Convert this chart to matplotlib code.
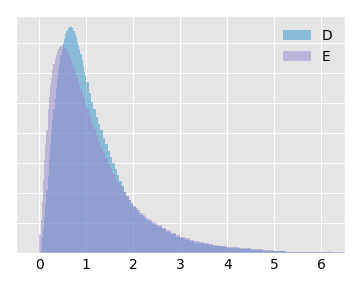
import numpy as np
import matplotlib
matplotlib.use("Agg")
import matplotlib.pyplot as plt

plt.style.use("ggplot")

labels = ["D", "E"]
colors = ["#2F90C8", "#9786CC"]

# bin edges (x values)
edges = np.concatenate([
    np.arange(0.0, 1.0, 0.025),
    np.arange(1.0, 2.5, 0.05),
    np.arange(2.5, 4.0, 0.1),
    np.arange(4.0, 6.51, 0.25),
])

# density heights
d_vals = [
    0.0, 0.01, 0.05, 0.08, 0.12, 0.165, 0.21, 0.26, 0.31, 0.36,
    0.405, 0.445, 0.48, 0.515, 0.55, 0.58, 0.61, 0.635, 0.66, 0.68,
    0.70, 0.715, 0.73, 0.742, 0.75, 0.755, 0.757, 0.755, 0.75, 0.74,
    0.73, 0.72, 0.705, 0.69, 0.68, 0.665, 0.645, 0.625, 0.605, 0.59,
    0.57, 0.535, 0.505, 0.48, 0.455, 0.43, 0.41, 0.385, 0.363, 0.34,
    0.32, 0.30, 0.28, 0.26, 0.24, 0.223, 0.205, 0.19, 0.176, 0.164,
    0.152, 0.143, 0.135, 0.127, 0.12, 0.114, 0.108, 0.103, 0.098, 0.093,
    0.087, 0.08, 0.07, 0.062, 0.055, 0.05, 0.044, 0.039, 0.035, 0.032,
    0.029, 0.027, 0.024, 0.022, 0.02,
    0.017, 0.013, 0.01, 0.008, 0.006, 0.004, 0.003, 0.002, 0.002, 0.001,
]
e_vals = [
    0.06, 0.11, 0.17, 0.245, 0.31, 0.36, 0.41, 0.48, 0.52, 0.56,
    0.585, 0.61, 0.63, 0.648, 0.662, 0.675, 0.682, 0.687, 0.69, 0.69,
    0.69, 0.687, 0.683, 0.677, 0.67, 0.66, 0.65, 0.64, 0.627, 0.617,
    0.605, 0.595, 0.582, 0.57, 0.558, 0.547, 0.535, 0.523, 0.512, 0.50,
    0.483, 0.46, 0.435, 0.413, 0.393, 0.373, 0.355, 0.335, 0.316, 0.298,
    0.282, 0.265, 0.25, 0.238, 0.227, 0.215, 0.203, 0.19, 0.178, 0.168,
    0.158, 0.15, 0.142, 0.135, 0.128, 0.121, 0.115, 0.11, 0.104, 0.099,
    0.092, 0.085, 0.076, 0.068, 0.06, 0.055, 0.049, 0.044, 0.04, 0.036,
    0.033, 0.03, 0.027, 0.025, 0.023,
    0.02, 0.016, 0.012, 0.01, 0.008, 0.005, 0.004, 0.003, 0.002, 0.002,
]

xticks = [0, 1, 2, 3, 4, 5, 6]

fig = plt.figure(figsize=(3.6, 2.88), dpi=100)
ax = fig.add_axes([0.044, 0.1215, 0.914, 0.8225])

for vals, lab, col in zip([d_vals, e_vals], labels, colors):
    ax.hist(edges[:-1], bins=edges, weights=vals, histtype="stepfilled",
            color=col, alpha=0.5, label=lab, edgecolor="none", linewidth=0)

ax.set_xlim(-0.5, 6.5)
ax.set_ylim(0, 0.79)
ax.set_xticks(xticks)
ax.set_xticklabels([str(t) for t in xticks])
ax.set_yticks(np.arange(0, 0.75, 0.1))
ax.set_yticklabels([])
ax.tick_params(length=0, labelsize=10, colors="black")
ax.legend(loc="upper right", frameon=False, fontsize=10)

fig.savefig("out.png", dpi=100)
